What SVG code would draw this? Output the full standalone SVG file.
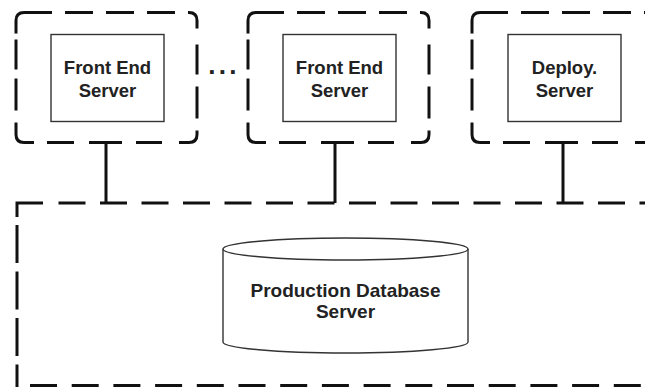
<svg xmlns="http://www.w3.org/2000/svg" xmlns:xlink="http://www.w3.org/1999/xlink" width="645" height="387" viewBox="0 0 645 387">
  <style>
    .frame { fill: none; stroke: #111; stroke-width: 3; stroke-linecap: butt; }
    .zone { fill: none; stroke: #111; stroke-width: 3; }
    .box { fill: #fff; stroke: #333; stroke-width: 1.4; }
    .link { fill: none; stroke: #111; stroke-width: 3; }
    .label { font-family: "Liberation Sans", Arial, sans-serif; font-weight: bold; fill: #222; text-anchor: middle; }
    .small { font-size: 18.5px; }
    .big { font-size: 19px; }
  </style>
  <defs>
    <!-- dashed host frame with rounded corners, 181 x 130 -->
    <path id="hostFrame" class="frame" d="M0,21 V8 Q0,0 8,0 H36 M49,0 H77 M90,0 H118 M131,0 H159 M172,0 H173 Q181,0 181,8 V16 M181,32 V62 M181,74 V106 M181,118 V122 Q181,130 173,130 H163 M146,130 H120 M106,130 H73 M58,130 H31 M18,130 H8 Q0,130 0,122 V110 M0,98 V66 M0,57 V27"/>
  </defs>

  <!-- production zone -->
  <g id="production-zone">
    <path class="zone" d="M43,203 H17 V217"/>
    <line class="zone" x1="58.5" y1="203" x2="645" y2="203" stroke-dasharray="27 14.5"/>
    <line class="zone" x1="17" y1="225" x2="17" y2="387" stroke-dasharray="38 8.5"/>
    <line class="zone" x1="30" y1="385.5" x2="645" y2="385.5" stroke-dasharray="27 14.7"/>
  </g>

  <!-- front end hosts -->
  <g id="front-end-1" transform="translate(16,12.5)">
    <use xlink:href="#hostFrame" href="#hostFrame"/>
    <rect class="box" x="35" y="22" width="113" height="87"/>
    <text class="label small" x="91.5" y="61.5">Front End</text>
    <text class="label small" x="91.5" y="84.5">Server</text>
  </g>

  <text id="ellipsis" x="208.3" y="74" font-family="Liberation Sans, Arial, sans-serif" font-weight="bold" font-size="26" letter-spacing="3.3" fill="#222">...</text>

  <g id="front-end-2" transform="translate(248,12.5)">
    <use xlink:href="#hostFrame" href="#hostFrame"/>
    <rect class="box" x="35" y="22" width="113" height="87"/>
    <text class="label small" x="91.5" y="61.5">Front End</text>
    <text class="label small" x="91.5" y="84.5">Server</text>
  </g>

  <g id="deploy-server" transform="translate(472,12.5)">
    <use xlink:href="#hostFrame" href="#hostFrame"/>
    <rect class="box" x="36" y="22" width="113" height="87"/>
    <text class="label small" x="92.5" y="61.5">Deploy.</text>
    <text class="label small" x="92.5" y="84.5">Server</text>
  </g>

  <!-- database cylinder -->
  <g id="production-db">
    <path class="box" d="M223,249 V342 A122.5,11 0 0 0 468,342 V249"/>
    <ellipse class="box" cx="345.5" cy="249" rx="122.5" ry="11"/>
    <text class="label big" x="345.5" y="297">Production Database</text>
    <text class="label big" x="345.5" y="318">Server</text>
  </g>

  <!-- host to zone links -->
  <g id="connectors">
    <path class="link" d="M106,142.5 V203 M335,142.5 V203 M563,142.5 V203"/>
  </g>
</svg>
